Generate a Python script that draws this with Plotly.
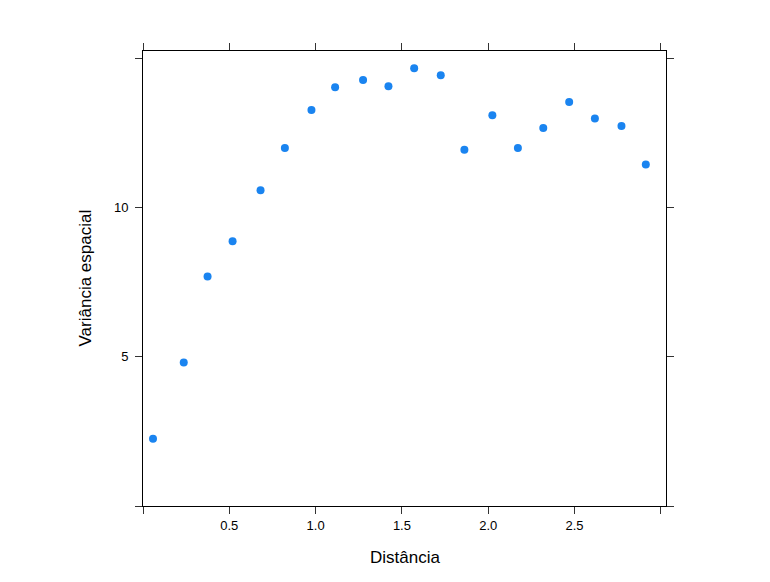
import plotly.graph_objects as go

distancia = [0.058, 0.236, 0.374, 0.519, 0.681, 0.822, 0.976, 1.113, 1.275, 1.422,
             1.571, 1.725, 1.862, 2.024, 2.172, 2.319, 2.469, 2.618, 2.772, 2.913]
variancia = [2.25, 4.81, 7.69, 8.87, 10.58, 11.99, 13.26, 14.03, 14.27, 14.06,
             14.66, 14.43, 11.93, 13.09, 11.99, 12.66, 13.53, 12.98, 12.73, 11.44]

x_tickvals = [0, 0.5, 1.0, 1.5, 2.0, 2.5, 3.0]
x_ticktext = ["", "0.5", "1.0", "1.5", "2.0", "2.5", ""]
y_tickvals = [0, 5, 10, 15]
y_ticktext = ["", "5", "10", ""]

fig = go.Figure()
fig.add_trace(go.Scatter(
    x=distancia, y=variancia, mode="markers",
    marker=dict(color="#1a84f0", size=8, line=dict(width=0)),
    showlegend=False,
))

axis_common = dict(
    showgrid=False, zeroline=False, showline=True, linecolor="black", linewidth=1,
    mirror="ticks", ticks="outside", ticklen=7, tickwidth=1, tickcolor="#333",
    tickfont=dict(family="Liberation Sans, Arial, sans-serif", size=13, color="black"),
)

fig.update_layout(
    width=770, height=582,
    margin=dict(l=135, r=112, t=43, b=84),
    paper_bgcolor="white", plot_bgcolor="white",
    xaxis=dict(range=[0, 3.03], tickvals=x_tickvals, ticktext=x_ticktext, **axis_common),
    yaxis=dict(range=[0, 15.24], tickvals=y_tickvals, ticktext=y_ticktext,
               ticklabelstandoff=4, **axis_common),
    annotations=[
        dict(text="Distância", xref="paper", yref="paper", x=0.5, y=0,
             xanchor="center", yanchor="middle", yshift=-51, showarrow=False,
             font=dict(family="Liberation Sans, Arial, sans-serif", size=17, color="black")),
        dict(text="Variância espacial", xref="paper", yref="paper", x=0, y=0.5,
             xanchor="center", yanchor="middle", xshift=-58, textangle=-90, showarrow=False,
             font=dict(family="Liberation Sans, Arial, sans-serif", size=17, color="black")),
    ],
)

fig.write_html("out.html")
